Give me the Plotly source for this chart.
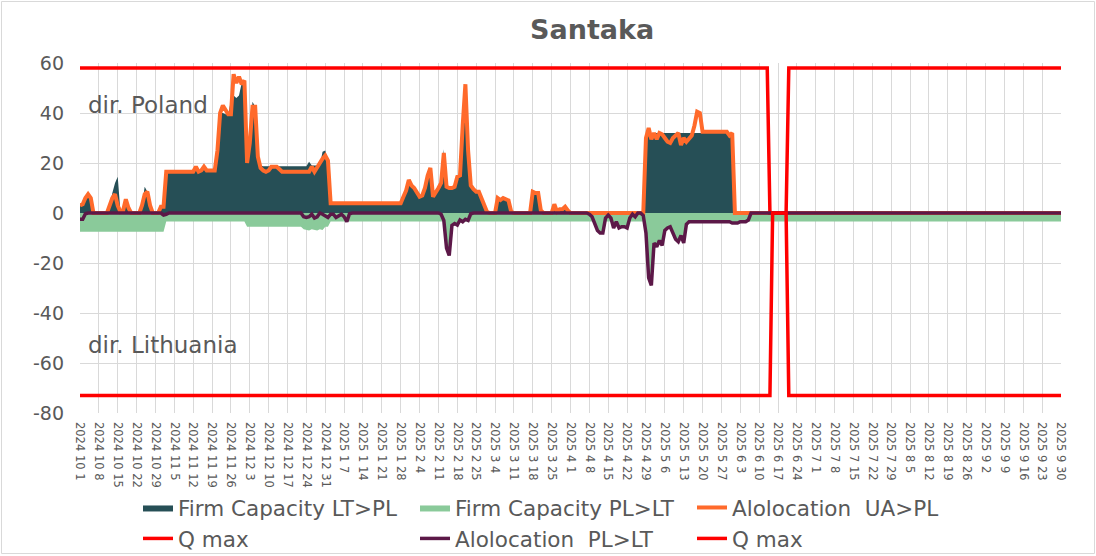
import pandas as pd
import plotly.graph_objects as go

START = pd.Timestamp("2024-10-01")

# ---- data (day offset from 2024-10-01, value in MW) ----
firm_lt_pl_days = [0, 1, 2, 3, 4, 5, 10, 11, 12, 13, 14, 15, 16, 17, 18, 19, 22, 23, 24, 25, 26, 27, 29, 30, 31,
                   32, 42, 43, 44, 45, 46, 47, 50, 51, 52, 53, 54, 55, 56, 57, 58, 59, 60, 61, 62, 63, 64, 65, 66,
                   67, 68, 84, 85, 86, 89, 90, 91, 92, 93, 119, 120, 121, 122, 123, 124, 125, 126, 127, 128, 129,
                   130, 131, 132, 133, 134, 135, 136, 137, 138, 139, 140, 141, 142, 143, 144, 145, 146, 147, 148,
                   149, 150, 151, 152, 154, 155, 156, 157, 158, 159, 160, 161, 167, 168, 169, 170, 171, 172, 175,
                   176, 177, 178, 179, 180, 181, 182, 209, 210, 211, 212, 242, 243, 364]
firm_lt_pl_vals = [3, 3.5, 6, 7.5, 6, 0, 0, 3, 8, 12, 14.5, 0.5, 1, 5.5, 2, 0, 0, 3, 10.5, 8.5, 3, 0, 0, 2.5, 2.5,
                   16.5, 16.5, 18.5, 16.5, 17, 18.5, 17, 17, 25, 40, 40, 39.5, 39.5, 45, 47, 46, 47, 52, 52, 20,
                   28, 44.5, 42.5, 22.5, 19, 18.7, 18.7, 20.5, 19, 19, 24.5, 25, 21, 3.9, 3.9, 6.5, 9, 13.2, 11, 10,
                   8.5, 6.5, 7, 10, 15, 18, 6.5, 8, 10, 12, 25.5, 10.5, 10, 10, 10.5, 14.5, 15, 35, 51.5, 25, 11,
                   9.5, 8.5, 8.5, 6, 2.5, 0.5, 0, 0, 6, 5.2, 6, 5.5, 5, 0.5, 0, 0, 8.5, 8, 8, 1, 0, 0, 3.5, 0.5,
                   1.5, 1.5, 2.5, 1, 0, 0, 30, 33, 32, 32, 0, 0]

firm_pl_lt_days = [0, 31, 32, 61, 62, 82, 83, 85, 86, 88, 89, 90, 91, 92, 93, 135, 136, 137, 138, 139, 140, 141,
                   142, 143, 190, 191, 192, 193, 194, 195, 197, 198, 199, 200, 201, 202, 203, 204, 209, 210, 211,
                   212, 213, 214, 215, 216, 217, 218, 219, 220, 221, 222, 223, 224, 225, 226, 241, 242, 243, 244,
                   245, 249, 364]
firm_pl_lt_vals = [-7.5, -7.5, -3.4, -3.4, -5.5, -5.5, -6.5, -7, -6.5, -7, -6.5, -6.8, -5.5, -5.5, -3.4, -3.4,
                   -14, -17, -5, -4.2, -4.8, -3.4, -3.5, -3.4, -3.4, -4, -7, -8, -8, -3.4, -3.4, -6, -3.5, -6,
                   -5.5, -5.5, -6, -3.4, -3.4, -8, -26, -29, -12, -13.5, -11, -13, -7, -6, -5.5, -8, -10.5, -11.5,
                   -9, -12, -4.5, -3.5, -3.5, -4, -4.1, -4, -3.5, -3.4, -3.4]

alloc_ua_pl_days = [0, 1, 2, 3, 4, 5, 10, 11, 12, 13, 14, 15, 16, 17, 18, 19, 22, 23, 24, 25, 26, 27, 29, 30, 31,
                    32, 42, 43, 44, 45, 46, 47, 50, 51, 52, 53, 54, 55, 56, 57, 58, 59, 60, 61, 62, 63, 64, 65,
                    66, 67, 68, 69, 70, 71, 73, 74, 75, 85, 86, 87, 88, 89, 90, 91, 92, 93, 119, 120, 121, 122,
                    123, 124, 125, 126, 127, 128, 129, 130, 131, 132, 133, 134, 135, 136, 137, 138, 139, 140, 141,
                    142, 143, 144, 145, 146, 147, 148, 149, 150, 151, 152, 154, 155, 156, 157, 158, 159, 160, 161,
                    167, 168, 169, 170, 171, 172, 175, 176, 177, 178, 179, 180, 181, 182, 209, 210, 211, 212, 213,
                    214, 215, 216, 217, 218, 219, 220, 221, 222, 223, 224, 225, 226, 227, 228, 229, 230, 231, 240,
                    241, 242, 243, 364]
alloc_ua_pl_vals = [3, 3.5, 6, 7.5, 6, 0, 0, 3, 6, 7.5, 3, 0.5, 1, 5.5, 2, 0, 0, 3, 7.5, 8.5, 3, 0, 0, 2.5, 2.5,
                    16.5, 16.5, 18.5, 16.5, 17, 18.5, 17, 17, 25, 40, 43, 41, 39.5, 39.5, 55.5, 52, 54.5, 51.5, 53,
                    20, 28, 42.5, 42.5, 22.5, 18, 17, 16.5, 17, 18.5, 18.5, 17.5, 16.5, 16.5, 18.5, 16.5, 18.5, 20,
                    21.7, 23, 21, 3.9, 3.9, 6.5, 9, 13.2, 11, 10, 8.5, 6.5, 7, 10, 15, 18, 6.5, 8, 10, 12, 24, 10.5,
                    10, 10, 10.5, 14.5, 15, 35, 51.5, 25, 11, 9.5, 8.5, 8.5, 6, 2.5, 0.5, 0, 0, 6, 5.2, 6, 5.5, 5,
                    0.5, 0, 0, 8.5, 8, 8, 1, 0, 0, 3.5, 0.5, 1.5, 1.5, 2.5, 1, 0, 0, 30, 34, 29.5, 32, 29.5, 32,
                    31.5, 30, 28.5, 28, 30, 31, 32, 27.2, 30, 28.5, 29.5, 31, 35, 40.5, 40, 32.5, 32.5, 31, 32, 0, 0]

alloc_pl_lt_days = [0, 1, 2, 3, 30, 31, 32, 33, 82, 83, 84, 85, 86, 87, 88, 89, 90, 91, 92, 93, 94, 95, 96, 97,
                    98, 99, 100, 101, 133, 134, 135, 136, 137, 138, 139, 140, 141, 142, 143, 144, 145, 146, 188,
                    189, 190, 191, 192, 193, 194, 195, 196, 197, 198, 199, 200, 201, 202, 203, 204, 205, 206, 207,
                    208, 209, 210, 211, 212, 213, 214, 215, 216, 217, 218, 219, 220, 221, 222, 223, 224, 225, 226,
                    241, 242, 243, 244, 245, 247, 248, 249, 364]
alloc_pl_lt_vals = [-2.5, -2.5, -0.3, 0, 0, -0.8, -0.5, 0, 0, -1.5, -1.8, -1.5, -0.5, -2, -1.5, 0, -0.5, -1, -1.8,
                    -0.5, -0.5, -1.8, -1, -0.5, -1.5, -3.5, -0.3, 0, 0, -0.5, -3, -14, -17, -5, -4.2, -4.8, -2.8,
                    -3.5, -2.5, -3, -0.3, 0, 0, -0.5, -1.5, -4, -7, -8, -8, -2, -0.8, -2, -6, -3.5, -6, -5.5, -5.5,
                    -6, -2, -0.5, -1.5, 0, 0, -1, -8, -26, -29, -12, -13.5, -11, -13, -7, -6, -5.5, -8, -10.5,
                    -11.5, -9, -12, -4.5, -3.5, -3.5, -4, -4.1, -4, -3.5, -3.5, -2.8, 0, 0]

qmax_pos_days = [0, 255, 256, 262, 263, 364]
qmax_pos_vals = [58, 58, 0, 0, 58, 58]
qmax_neg_days = [0, 256, 257, 262, 263, 364]
qmax_neg_vals = [-73, -73, 0, 0, -73, -73]

y_ticks = [60, 40, 20, 0, -20, -40, -60, -80]
y_tick_labels = ["60", "40", "20", "0", "-20", "-40", "-60", "-80"]

tick_dates = pd.date_range("2024-10-01", "2025-09-30", freq="7D")
tick_labels = [f"{d.year} {d.month} {d.day}" for d in tick_dates]


def to_dates(days):
    return START + pd.to_timedelta(days, unit="D")


FONT = "DejaVu Sans"
GREY = "#595959"
GRID = "#d9d9d9"

fig = go.Figure()
fig.add_trace(go.Scatter(x=to_dates(firm_lt_pl_days), y=firm_lt_pl_vals, name="Firm Capacity LT>PL",
                         mode="lines", fill="tozeroy", fillcolor="#264f56",
                         line=dict(width=0, color="#264f56")))
fig.add_trace(go.Scatter(x=to_dates(firm_pl_lt_days), y=firm_pl_lt_vals, name="Firm Capacity PL>LT",
                         mode="lines", fill="tozeroy", fillcolor="#8aca9a",
                         line=dict(width=0, color="#8aca9a")))
fig.add_trace(go.Scatter(x=to_dates(alloc_ua_pl_days), y=alloc_ua_pl_vals, name="Alolocation\u00a0 UA>PL",
                         mode="lines", line=dict(width=4, color="#ff6a2b")))
fig.add_trace(go.Scatter(x=to_dates(qmax_pos_days), y=qmax_pos_vals, name="Q max",
                         mode="lines", line=dict(width=3.5, color="#ff0000")))
fig.add_trace(go.Scatter(x=to_dates(alloc_pl_lt_days), y=alloc_pl_lt_vals, name="Alolocation\u00a0 PL>LT",
                         mode="lines", line=dict(width=3.5, color="#5c1848")))
fig.add_trace(go.Scatter(x=to_dates(qmax_neg_days), y=qmax_neg_vals, name="Q max",
                         mode="lines", line=dict(width=3.5, color="#ff0000")))

W, H = 1096, 556
L, R, T, B = 80, 35, 63, 143
PW, PH = W - L - R, H - T - B


def px_x(px):
    return (px - L) / PW


def px_y(py):
    return (H - B - py) / PH


fig.update_layout(
    template="none",
    width=W, height=H, autosize=False,
    margin=dict(l=L, r=R, t=T, b=B, autoexpand=False),
    paper_bgcolor="white", plot_bgcolor="white",
    font=dict(family=FONT, color=GREY),
    showlegend=True,
    legend=dict(orientation="h", x=px_x(138), y=px_y(487), xanchor="left", yanchor="top",
                entrywidth=232, entrywidthmode="pixels", traceorder="normal",
                font=dict(family=FONT, size=21.5, color=GREY), itemwidth=30,
                bgcolor="rgba(0,0,0,0)", tracegroupgap=0),
    xaxis=dict(type="date", range=["2024-10-01", "2025-09-30"], tickvals=tick_dates, ticktext=tick_labels,
               tickangle=90, tickfont=dict(family=FONT, size=11.5, color=GREY), showgrid=True,
               gridcolor=GRID, gridwidth=1.3, zeroline=False, showline=False, ticks="", automargin=False,
               ticklabelstandoff=8),
    yaxis=dict(range=[-80, 60], tickvals=y_ticks, ticktext=y_tick_labels, showgrid=True, gridcolor=GRID,
               gridwidth=1.3, zeroline=False, showline=False, ticks="", automargin=False,
               tickfont=dict(family=FONT, size=19, color=GREY), ticklabelstandoff=15),
    annotations=[
        dict(text="<b>Santaka</b>", x=px_x(592), y=px_y(30), xref="paper", yref="paper", showarrow=False,
             xanchor="center", yanchor="middle", font=dict(family=FONT, size=27, color=GREY)),
        dict(text="dir. Poland", x=px_x(86), y=43.2, xref="paper", yref="y", showarrow=False,
             xanchor="left", yanchor="middle", font=dict(family=FONT, size=23, color=GREY)),
        dict(text="dir. Lithuania", x=px_x(86), y=-52.8, xref="paper", yref="y", showarrow=False,
             xanchor="left", yanchor="middle", font=dict(family=FONT, size=23, color=GREY)),
    ],
    shapes=[dict(type="rect", xref="paper", yref="paper", x0=px_x(1.5), x1=px_x(1094.5),
                 y0=px_y(553.5), y1=px_y(1.5), line=dict(color=GRID, width=1), layer="below")],
)

fig.write_html("out.html", config={"displayModeBar": False},
               post_script="document.body.style.margin='0px';document.body.style.overflow='hidden';")
